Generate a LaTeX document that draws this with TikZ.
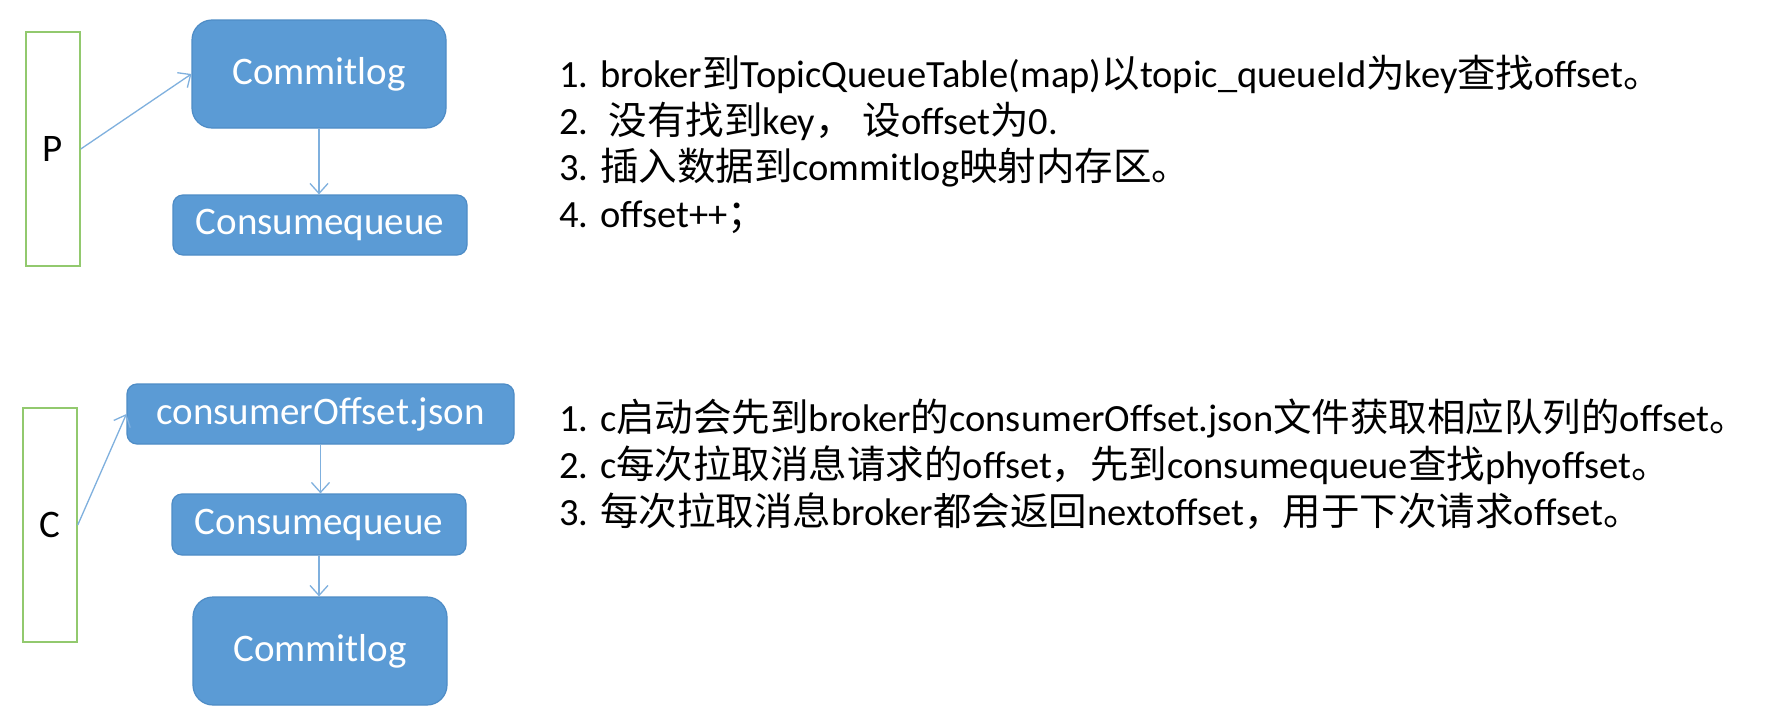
\documentclass[tikz,border=0pt]{standalone}
\usepackage{fontspec}
\setmainfont{Carlito}
\newfontfamily\cjk{Noto Sans CJK SC}
\newcommand\zh[1]{{\cjk #1}}
\usetikzlibrary{arrows.meta}
\definecolor{boxblue}{HTML}{5B9BD5}
\definecolor{boxedge}{HTML}{4E8CC6}
\definecolor{arrowblue}{HTML}{7FB0DE}
\definecolor{pgreen}{HTML}{92C96E}
\tikzset{
  bluebox/.style={rectangle, fill=boxblue, draw=boxedge, line width=1.2pt, text=white,
    font=\fontsize{39}{46}\selectfont, inner sep=0pt, align=center},
  bigbox/.style={bluebox, rounded corners=20pt},
  smallbox/.style={bluebox, rounded corners=10pt},
  actor/.style={rectangle, draw=pgreen, line width=1.5pt, fill=white, inner sep=0pt,
    font=\fontsize{39}{46}\selectfont, text=black},
  flow/.style={draw=arrowblue, line width=1.3pt, -{Straight Barb[length=10pt,width=18pt,line width=1.3pt]}},
  note/.style={anchor=base west, inner sep=0pt, font=\fontsize{38.5}{46}\selectfont, text=black}
}
\begin{document}
\begin{tikzpicture}[x=1pt,y=-1pt]
\useasboundingbox[fill=white] (0,0) rectangle (1770,723);
% top group
\node[actor, minimum width=54pt, minimum height=234pt] (P) at (53,149) {P};
\node[bigbox, minimum width=254pt, minimum height=108pt] (cl1) at (319,74) {Commitlog};
\node[smallbox, minimum width=294pt, minimum height=60pt] (cq1) at (320,225) {Consumequeue};
\draw[flow] (P.east) -- (cl1.west);
\draw[flow] (cl1.south) -- (cl1.south |- cq1.north);
% bottom group
\node[actor, minimum width=54pt, minimum height=234pt] (C) at (50,525) {C};
\node[smallbox, minimum width=387pt, minimum height=60pt] (js) at (320.5,414) {consumerOffset.json};
\node[smallbox, minimum width=294pt, minimum height=61pt] (cq2) at (319,524.5) {Consumequeue};
\node[bigbox, minimum width=254pt, minimum height=108pt] (cl2) at (320,651) {Commitlog};
\draw[flow] (C.east) -- (js.west);
\draw[flow] (js.south) -- (js.south |- cq2.north);
\draw[flow] (cq2.south) -- (cq2.south |- cl2.north);
% notes
\node[note] (t1) at (559,87) {1. broker\zh{到}TopicQueueTable(map)\zh{以}topic\_queueId\zh{为}key\zh{查找}offset\zh{。}};
\node[note] (t2) at (559,134) {2.~ \zh{没有找到}key\zh{，} \zh{设}offset\zh{为}0.};
\node[note] (t3) at (559,180) {3. \zh{插入数据到}commitlog\zh{映射内存区。}};
\node[note] (t4) at (559,227) {4. offset++\zh{；}};
\node[note] (b1) at (559,431) {1. c\zh{启动会先到}broker\zh{的}consumerOffset.json\zh{文件获取相应队列的}offset\zh{。}};
\node[note] (b2) at (559,478) {2. c\zh{每次拉取消息请求的}offset\zh{，先到}consumequeue\zh{查找}phyoffset\zh{。}};
\node[note] (b3) at (559,525) {3. \zh{每次拉取消息}broker\zh{都会返回}nextoffset\zh{，用于下次请求}offset\zh{。}};
\end{tikzpicture}
\end{document}
